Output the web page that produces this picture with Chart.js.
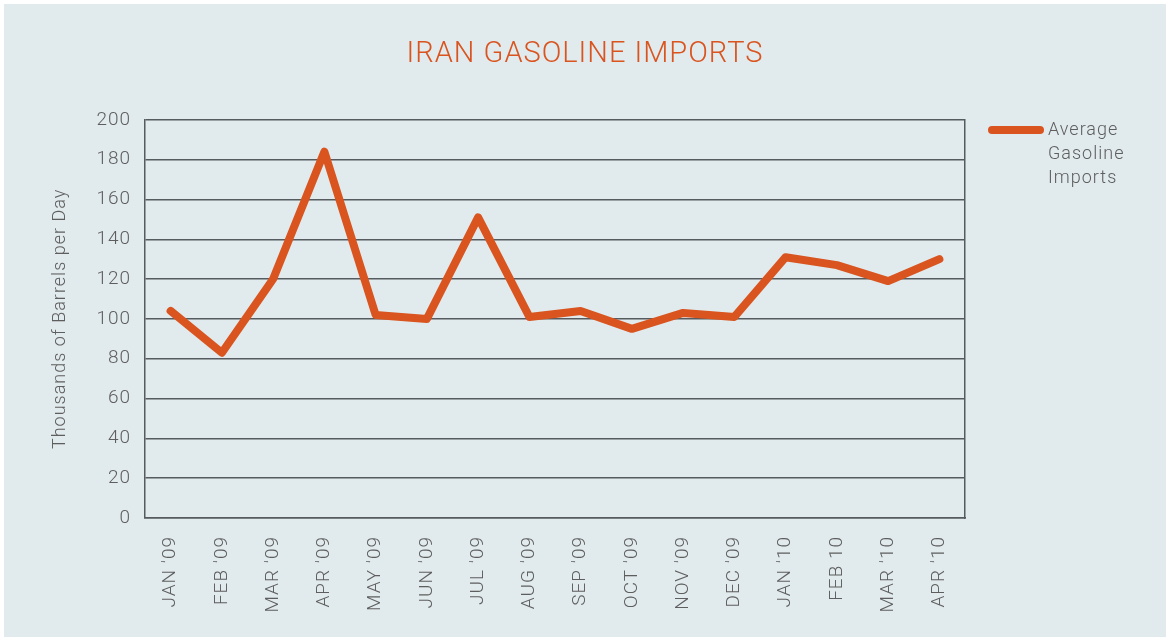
<!DOCTYPE html>
<html>
<head>
<meta charset="utf-8">
<script src="https://cdn.jsdelivr.net/npm/chart.js@4/dist/chart.umd.min.js"></script>
<style>
  html, body { margin: 0; padding: 0; background: #ffffff; }
  #wrap { position: absolute; left: 4px; top: 4px; width: 1162px; height: 633px; background: #e1eaed; }
  canvas { display: block; }
</style>
</head>
<body>
<div id="wrap"><canvas id="c" width="1162" height="633"></canvas></div>
<script>
const titleText = "IRAN GASOLINE IMPORTS";
const yAxisTitle = "Thousands of Barrels per Day";
const categories = ["JAN '09","FEB '09","MAR '09","APR '09","MAY '09","JUN '09","JUL '09","AUG '09","SEP '09","OCT '09","NOV '09","DEC '09","JAN '10","FEB 10","MAR '10","APR '10"];
const seriesName = ["Average", "Gasoline", "Imports"];
const importsValues = [104, 83, 120, 184, 102, 100, 151, 101, 104, 95, 103, 101, 131, 127, 119, 130];
const yTicks = [0, 20, 40, 60, 80, 100, 120, 140, 160, 180, 200];

const ORANGE = "#d9541e";
const GRID = "#555b5e";
const TEXT = "#5e5e5e";
const FONT = "Roboto";

const spacingPlugin = {
  id: 'letterSpacing',
  beforeInit(chart) { chart.ctx.letterSpacing = '1px'; },
  beforeUpdate(chart) { chart.ctx.letterSpacing = '1px'; },
  beforeDraw(chart) { chart.ctx.letterSpacing = '1px'; }
};

const legendPlugin = {
  id: 'sideLegend',
  afterDraw(chart) {
    const ctx = chart.ctx;
    const ds = chart.data.datasets[0];
    const x0 = chart.chartArea.right + 23;
    const y0 = 126;
    ctx.save();
    ctx.strokeStyle = ds.borderColor;
    ctx.lineWidth = 8;
    ctx.lineCap = 'round';
    ctx.beginPath();
    ctx.moveTo(x0 + 4, y0);
    ctx.lineTo(x0 + 52, y0);
    ctx.stroke();
    ctx.fillStyle = TEXT;
    ctx.font = "300 18px " + FONT;
    ctx.letterSpacing = '1px';
    ctx.textBaseline = 'middle';
    ctx.textAlign = 'left';
    const lines = ds.label;
    lines.forEach((t, i) => ctx.fillText(t, x0 + 60, y0 + i * 24));
    ctx.restore();
  }
};

new Chart(document.getElementById('c'), {
  type: 'line',
  data: {
    labels: categories,
    datasets: [{
      label: seriesName,
      data: importsValues,
      borderColor: ORANGE,
      backgroundColor: ORANGE,
      borderWidth: 8,
      borderCapStyle: 'round',
      borderJoinStyle: 'round',
      pointRadius: 0,
      tension: 0,
      fill: false
    }]
  },
  options: {
    responsive: false,
    animation: false,
    devicePixelRatio: 1,
    layout: { padding: { left: 0, right: 0, top: 0, bottom: 0 } },
    plugins: {
      legend: { display: false },
      tooltip: { enabled: false },
      title: {
        display: true,
        text: titleText,
        color: ORANGE,
        font: { family: FONT, size: 29, weight: '300' },
        padding: { top: 33, bottom: 48 }
      }
    },
    scales: {
      x: {
        type: 'category',
        offset: true,
        grid: { display: false, drawTicks: false },
        border: { display: true, color: GRID, width: 1.5 },
        ticks: {
          color: TEXT,
          font: { family: FONT, size: 19, weight: '300' },
          minRotation: 90,
          maxRotation: 90,
          padding: 18,
          autoSkip: false
        },
        afterFit(scale) { scale.height = 119; }
      },
      y: {
        min: 0,
        max: 200,
        afterBuildTicks(scale) { scale.ticks = yTicks.map(v => ({ value: v })); },
        grid: { color: GRID, lineWidth: 1.5, drawTicks: false },
        border: { display: true, color: GRID, width: 1.5 },
        ticks: {
          color: TEXT,
          font: { family: FONT, size: 19, weight: '300' },
          padding: 14
        },
        title: {
          display: true,
          text: yAxisTitle,
          color: TEXT,
          font: { family: FONT, size: 18, weight: '300' },
          padding: { top: 46, bottom: 0 }
        },
        afterFit(scale) { scale.width = 141; }
      },
      y2: {
        position: 'right',
        min: 0,
        max: 200,
        grid: { display: false, drawTicks: false },
        border: { display: true, color: GRID, width: 1.5 },
        ticks: { display: false },
        afterFit(scale) { scale.width = 201; }
      }
    }
  },
  plugins: [spacingPlugin, legendPlugin]
});
</script>
</body>
</html>
